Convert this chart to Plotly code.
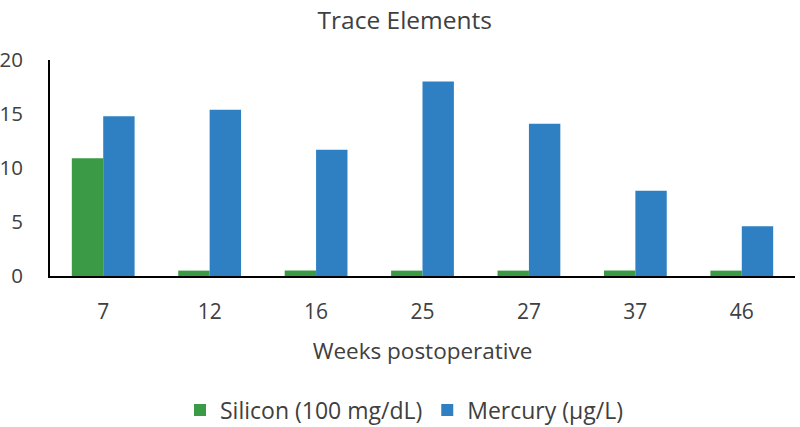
import plotly.graph_objects as go

weeks = ["7", "12", "16", "25", "27", "37", "46"]
silicon = [10.9, 0.5, 0.5, 0.5, 0.5, 0.5, 0.5]
mercury = [14.8, 15.4, 11.7, 18.0, 14.1, 7.9, 4.6]

font_family = "Open Sans, Liberation Sans, sans-serif"
text_color = "#404040"

fig = go.Figure()
fig.add_trace(go.Bar(x=weeks, y=silicon, name="Silicon (100 mg/dL)",
                     marker=dict(color="#3A9A46", line=dict(width=0))))
fig.add_trace(go.Bar(x=weeks, y=mercury, name="Mercury (µg/L)",
                     marker=dict(color="#2E80C3", line=dict(width=0))))

fig.update_layout(
    width=800, height=427,
    margin=dict(l=50, r=5, t=60, b=151, autoexpand=False),
    paper_bgcolor="white", plot_bgcolor="white",
    barmode="group", bargap=0.41, bargroupgap=0,
    font=dict(family=font_family, color=text_color, size=21),
    title=dict(text="Trace Elements", x=0.506, xanchor="center",
               y=1 - 20 / 427, yanchor="middle",
               font=dict(size=24.5, color=text_color)),
    showlegend=True,
    legend=dict(orientation="h", x=0.505, xanchor="center", xref="container",
                y=1 - 410 / 427, yanchor="middle", yref="container",
                font=dict(size=23, color=text_color), tracegroupgap=0),
    xaxis=dict(showline=True, linecolor="black", linewidth=2, showgrid=False,
               ticks="", ticklabelstandoff=16, tickfont=dict(size=21),
               automargin=False,
               title=dict(text="Weeks postoperative", standoff=19, font=dict(size=22.5))),
    yaxis=dict(range=[0, 20], dtick=5, showline=True, linecolor="black", linewidth=2,
               showgrid=False, ticks="", ticklabelstandoff=21, tickfont=dict(size=20.5),
               zeroline=False, automargin=False),
)

fig.write_html("out.html", config={"displayModeBar": False},
               post_script="document.body.style.margin='0';")
